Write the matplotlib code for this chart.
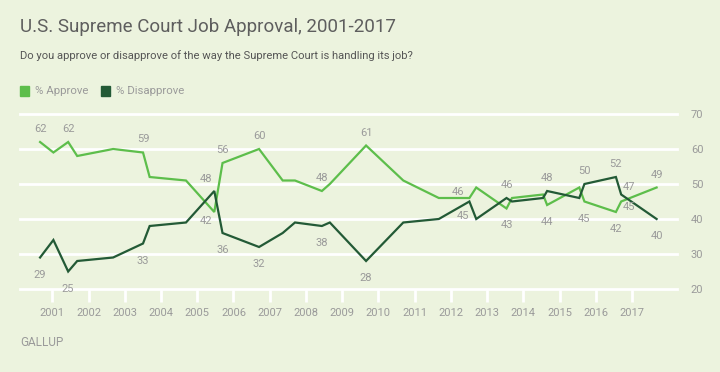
import matplotlib
matplotlib.use("Agg")
import matplotlib.pyplot as plt
import matplotlib.patches as mpatches
import pandas as pd

# ---- data ----
dates = ["2000-08-30", "2001-01-12", "2001-06-10", "2001-09-09", "2002-09-06",
         "2003-07-04", "2003-09-09", "2004-09-09", "2005-06-22", "2005-09-13",
         "2006-09-16", "2007-05-12", "2007-09-13", "2008-06-10", "2008-08-29",
         "2009-08-30", "2010-09-09", "2011-09-02", "2012-07-06", "2012-09-13",
         "2013-07-16", "2013-09-09", "2014-07-19", "2014-08-29", "2015-07-19",
         "2015-09-09", "2016-07-22", "2016-09-13", "2017-09-06"]
approve = [62, 59, 62, 58, 60, 59, 52, 51, 42, 56,
           60, 51, 51, 48, 50, 61, 51, 46, 46, 49,
           43, 46, 47, 44, 49, 45, 42, 45, 49]
disapprove = [29, 34, 25, 28, 29, 33, 38, 39, 48, 36,
              32, 36, 39, 38, 39, 28, 39, 40, 45, 40,
              46, 45, 46, 48, 46, 50, 52, 47, 40]
year_ticks = list(range(2001, 2018))
y_ticks = [20, 30, 40, 50, 60, 70]
approve_labeled = [0, 2, 5, 8, 9, 10, 13, 15, 18, 20, 23, 25, 26, 27, 28]
disapprove_labeled = [0, 2, 5, 8, 9, 10, 13, 15, 18, 20, 23, 25, 26, 27, 28]

# ---- styles ----
BG = "#ECF3DE"
C_APP = "#5DBE4B"
C_DIS = "#235A36"
GREY = "#9A9A9A"
FONT = "Roboto"
plt.rcParams["font.family"] = [FONT, "DejaVu Sans"]

dt = pd.to_datetime(dates)
xs = [d.year + (d.dayofyear - 1) / 365.25 for d in dt]

W, H = 720, 372
fig = plt.figure(figsize=(W / 100, H / 100), dpi=100, facecolor=BG)
ax = fig.add_axes([20 / W, (H - 289) / H, 657 / W, 175 / H], facecolor=BG)

ax.set_xlim(2001 - 32.3 / 36.23, 2017 + 45 / 36.23)
ax.set_ylim(20, 70)

for s in ax.spines.values():
    s.set_visible(False)

ax.set_yticks(y_ticks)
ax.yaxis.tick_right()
ax.tick_params(axis="y", length=0, pad=10, labelsize=8, labelcolor=GREY)
ax.set_xticks(year_ticks)
ax.set_xticklabels([str(y) for y in year_ticks])
ax.tick_params(axis="x", length=9, width=2, color="white", pad=5,
               labelsize=8, labelcolor=GREY)
ax.grid(axis="y", color="white", linewidth=2)
ax.set_axisbelow(True)
for gl in ax.get_ygridlines():
    gl.set_clip_on(False)

ax.plot(xs, approve, color=C_APP, linewidth=1.6, solid_joinstyle="miter", zorder=3)
ax.plot(xs, disapprove, color=C_DIS, linewidth=1.6, solid_joinstyle="miter", zorder=4)

ABOVE = (0, 13)
BELOW = (0, -17)
app_off = {8: (-8, -9), 18: (-11, 6), 27: (8, -6)}
dis_off = {8: (-8.5, 11.5), 18: (-6, -14.5), 27: (8.3, 7.7)}

for i in approve_labeled:
    off = app_off.get(i, ABOVE if approve[i] >= disapprove[i] else BELOW)
    ax.annotate(str(approve[i]), (xs[i], approve[i]), xytext=off,
                textcoords="offset pixels", ha="center", va="center",
                fontsize=8, color=GREY, zorder=5)
for i in disapprove_labeled:
    off = dis_off.get(i, ABOVE if disapprove[i] > approve[i] else BELOW)
    ax.annotate(str(disapprove[i]), (xs[i], disapprove[i]), xytext=off,
                textcoords="offset pixels", ha="center", va="center",
                fontsize=8, color=GREY, zorder=5)

# titles
fig.text(20 / W, 1 - 27.5 / H, "U.S. Supreme Court Job Approval, 2001-2017",
         fontsize=13.5, color="#5E5E5E", ha="left", va="center")
fig.text(20 / W, 1 - 55.5 / H,
         "Do you approve or disapprove of the way the Supreme Court is handling its job?",
         fontsize=8.1, color="#555555", ha="left", va="center")

# legend
ly = 90.5
for x0, col, lab in [(20, C_APP, "% Approve"), (101, C_DIS, "% Disapprove")]:
    fig.patches.append(mpatches.Rectangle((x0 / W, 1 - (ly + 5) / H), 8.5 / W, 10 / H,
                                          transform=fig.transFigure, color=col))
    fig.text((x0 + 15) / W, 1 - ly / H, lab, fontsize=8.2, color=GREY,
             ha="left", va="center")

fig.text(20 / W, 1 - 342 / H, "GALLUP", fontsize=8.5, color=GREY,
         ha="left", va="center")

fig.savefig("out.png", dpi=100, facecolor=BG)
